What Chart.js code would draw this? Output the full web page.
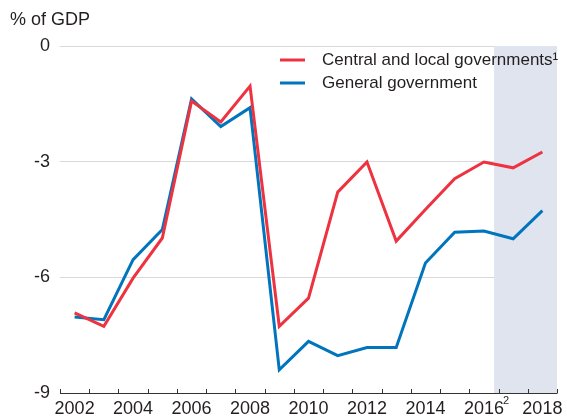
<!DOCTYPE html>
<html>
<head>
<meta charset="utf-8">
<script src="https://cdn.jsdelivr.net/npm/chart.js@4.4.1/dist/chart.umd.min.js"></script>
<style>
  html, body { margin: 0; padding: 0; background: #fff; }
  #wrap { position: relative; width: 567px; height: 416px; }
</style>
</head>
<body>
<div id="wrap"><canvas id="chart" width="567" height="416"></canvas></div>
<script>
// ---- data ----
const years = ["2002", "2003", "2004", "2005", "2006", "2007", "2008", "2009", "2010",
  "2011", "2012", "2013", "2014", "2015", "2016", "2017", "2018"];
const centralLocal = [-6.92, -7.27, -6.02, -4.98, -1.43, -1.97, -1.04, -7.27, -6.54,
  -3.79, -3.01, -5.06, -4.24, -3.44, -3.01, -3.16, -2.75];
const generalGov = [-7.03, -7.10, -5.54, -4.76, -1.37, -2.09, -1.60, -8.40, -7.66,
  -8.03, -7.82, -7.82, -5.63, -4.83, -4.80, -5.00, -4.27];
const yTicks = [0, -3, -6, -9];
const seriesNames = ["Central and local governments\u00b9", "General government"];

const RED = "#ee3340";
const BLUE = "#0075be";
const TEXT = "#231f20";
const FONT = "'Liberation Sans', Arial, sans-serif";

// shaded projection band, axis ticks, legend, superscript
const extras = {
  id: "extras",
  beforeDatasetsDraw(chart) {
    const { ctx, chartArea: a, scales } = chart;
    const step = scales.x.getPixelForValue(1) - scales.x.getPixelForValue(0);
    const x0 = scales.x.getPixelForValue(14) + step * 0.35;
    ctx.save();
    ctx.fillStyle = "#dfe4ee";
    ctx.fillRect(x0, a.top, a.right - x0, a.bottom - a.top);
    ctx.restore();
  },
  afterDraw(chart) {
    const { ctx, chartArea: a, scales } = chart;
    ctx.save();
    // x axis line + inward tick marks at band edges
    ctx.strokeStyle = "#333";
    ctx.lineWidth = 1;
    ctx.beginPath();
    ctx.moveTo(a.left, a.bottom + 0.5);
    ctx.lineTo(a.right, a.bottom + 0.5);
    const n = years.length;
    for (let i = 0; i <= n; i++) {
      const x = Math.round(a.left + i * (a.right - a.left) / n) + 0.5;
      ctx.moveTo(x, a.bottom - 4);
      ctx.lineTo(x, a.bottom + 0.5);
    }
    ctx.stroke();

    // superscript after 2016
    ctx.fillStyle = TEXT;
    ctx.font = "11px " + FONT;
    ctx.textBaseline = "alphabetic";
    ctx.fillText("2", scales.x.getPixelForValue(14) + 19, 404);

    // unit label
    ctx.font = "18px " + FONT;
    ctx.textBaseline = "middle";
    ctx.fillText("% of GDP", 10, 20);

    // legend
    ctx.font = "17px " + FONT;
    const lx = 280;
    [[RED, seriesNames[0], 60], [BLUE, seriesNames[1], 83]].forEach(([c, t, y]) => {
      ctx.strokeStyle = c;
      ctx.lineWidth = 3;
      ctx.beginPath();
      ctx.moveTo(lx, y);
      ctx.lineTo(lx + 25, y);
      ctx.stroke();
      ctx.fillStyle = TEXT;
      ctx.fillText(t, lx + 42, y);
    });
    ctx.restore();
  }
};

new Chart(document.getElementById("chart"), {
  type: "line",
  data: {
    labels: years,
    datasets: [
      { label: seriesNames[0], data: centralLocal, borderColor: RED, borderWidth: 3,
        pointRadius: 0, tension: 0, fill: false },
      { label: seriesNames[1], data: generalGov, borderColor: BLUE, borderWidth: 3,
        pointRadius: 0, tension: 0, fill: false }
    ]
  },
  options: {
    responsive: false,
    animation: false,
    layout: { padding: { left: 0, right: 10, top: 46, bottom: 0 } },
    plugins: { legend: { display: false }, tooltip: { enabled: false } },
    scales: {
      x: {
        offset: true,
        grid: { display: false },
        border: { display: false },
        ticks: {
          color: TEXT,
          font: { family: FONT, size: 18 },
          padding: -3,
          autoSkip: false,
          maxRotation: 0,
          callback: (v, i) => (i % 2 === 0 ? years[i] : "")
        },
        afterFit: (s) => { s.height = 23; }
      },
      y: {
        min: -9,
        max: 0,
        afterBuildTicks: (s) => { s.ticks = yTicks.map(v => ({ value: v })); },
        grid: {
          color: (c) => (c.tick && c.tick.value === -9 ? "rgba(0,0,0,0)" : "#d9d9d9"),
          lineWidth: 1,
          drawTicks: false
        },
        border: { display: false },
        ticks: {
          color: TEXT,
          font: { family: FONT, size: 18 },
          padding: 10
        },
        afterFit: (s) => { s.width = 60; }
      }
    }
  },
  plugins: [extras]
});
</script>
</body>
</html>
